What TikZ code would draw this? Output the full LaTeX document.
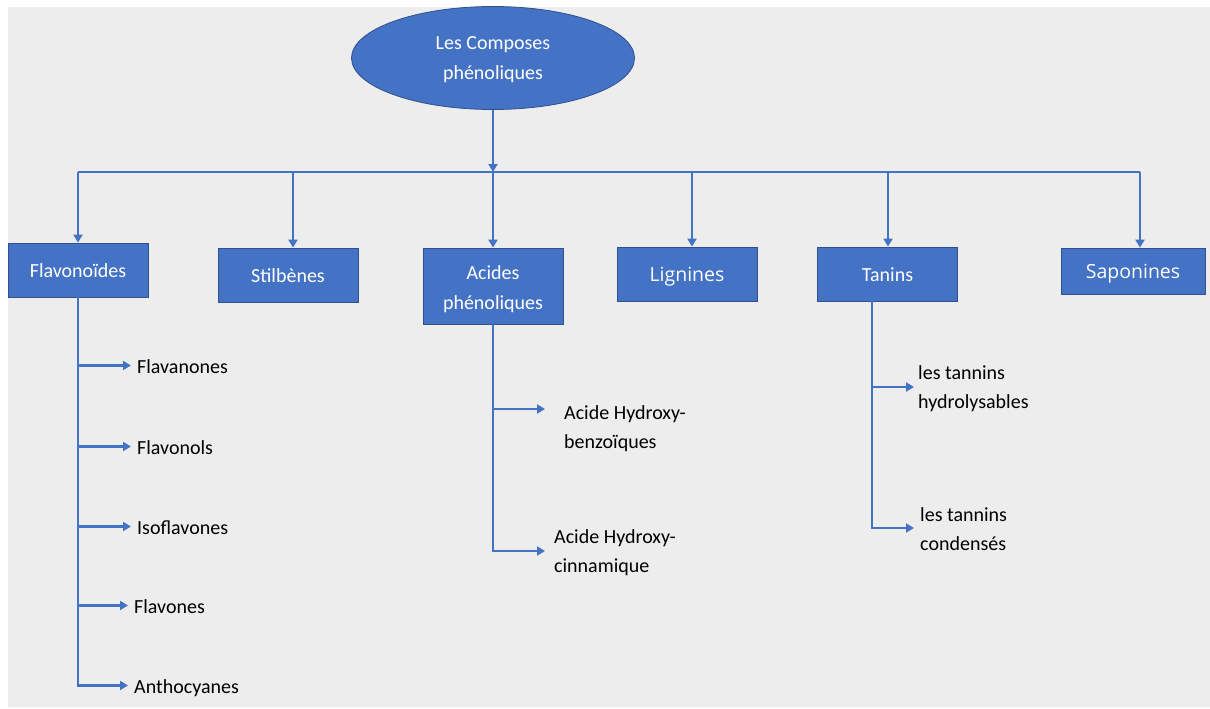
\documentclass[tikz,border=0pt]{standalone}
\usepackage{fontspec}
\setmainfont{Carlito}
\newfontfamily\seg{Open Sans}
\usetikzlibrary{shapes.geometric,arrows.meta}
\definecolor{bg}{HTML}{EDEDED}
\definecolor{blu}{HTML}{4472C4}
\definecolor{bord}{HTML}{2F528F}
\definecolor{ln}{HTML}{4472C4}
\begin{document}
\begin{tikzpicture}[x=1pt,y=-1pt,
 box/.style={draw=bord,line width=0.8pt,fill=blu,text=white,minimum width=140pt,minimum height=54pt,inner sep=0pt,font=\fontsize{20}{30}\selectfont,align=center},
 one/.style={text height=15pt,text depth=0pt},
 conn/.style={draw=ln,line width=2.8pt},
 arr/.style={conn,-{Triangle[width=9pt,length=8pt]}},
 leaf/.style={font=\fontsize{20}{29}\selectfont,text=black,inner ysep=0pt,inner xsep=6pt,align=left},
]
\useasboundingbox (0,0) rectangle (1210,709);
\fill[white] (0,0) rectangle (1210,709);
\fill[bg] (8,7) rectangle (1210,707);

% root
\node[ellipse,draw=bord,line width=0.8pt,fill=blu,text=white,minimum width=283pt,minimum height=103pt,inner sep=0pt,align=center,font=\fontsize{20}{30}\selectfont] (root) at (493,58) {\rule{0pt}{17pt}Les Composes\\phénoliques};

% categories
\node[box,one] (flav) at (78,270) {Flavonoïdes};
\node[box,one] (stil) at (288,275) {Stilbènes};
\node[box,minimum height=76pt] (acid) at (493,286) {\rule{0pt}{19.5pt}Acides\\phénoliques};
\node[box,one,font=\seg\fontsize{19.5}{29}\selectfont] (lign) at (687,274) {Lignines};
\node[box,one] (tan) at (887.5,274) {Tanins};
\node[box,one,minimum width=144pt,minimum height=46pt,font=\seg\fontsize{19.5}{29}\selectfont] (sapo) at (1133,271) {Saponines};

% bar
\coordinate (b1) at (78,172);
\coordinate (b2) at (293,172);
\coordinate (bm) at (493,172);
\coordinate (b4) at (692,172);
\coordinate (b5) at (888,172);
\coordinate (b6) at (1140,172);
\draw[conn] (b1) -- (b6);
\draw[arr] (root.south) -- (bm);
\draw[arr] (b1) -- (b1 |- flav.north);
\draw[arr] (b2) -- (b2 |- stil.north);
\draw[arr] (bm) -- (acid.north);
\draw[arr] (b4) -- (b4 |- lign.north);
\draw[arr] (b5) -- (b5 |- tan.north);
\draw[arr] (b6) -- (b6 |- sapo.north);

% flavonoid children
\node[leaf,one,anchor=base west] (f1) at (131,373) {Flavanones};
\node[leaf,one,anchor=base west] (f2) at (131,454) {Flavonols};
\node[leaf,one,anchor=base west] (f3) at (131,534) {Isoflavones};
\node[leaf,one,anchor=base west] (f4) at (128,613) {Flavones};
\node[leaf,one,anchor=base west] (f5) at (128,693) {Anthocyanes};
\foreach \c in {f1,f2,f3,f4,f5}{\draw[arr] (flav.south) |- (\c.west);}

% acid children (base = baseline of the last line)
\coordinate (a1) at (545,409);
\coordinate (a2) at (545,551);
\node[leaf,anchor=base west,inner xsep=0pt] (ah1) at (564,448) {Acide Hydroxy-\\benzoïques};
\node[leaf,anchor=base west,inner xsep=0pt] (ah2) at (554,572) {Acide Hydroxy-\\cinnamique};
\draw[arr] (acid.south) |- (a1);
\draw[arr] (acid.south) |- (a2);

% tanins children
\coordinate (t1) at (914,387);
\coordinate (t2) at (914,528);
\node[leaf,anchor=base west,inner xsep=0pt] (th) at (918,408) {les tannins\\hydrolysables};
\node[leaf,anchor=base west,inner xsep=0pt] (tc) at (920,550) {les tannins\\condensés};
\draw[arr] ([xshift=-15.5pt]tan.south) |- (t1);
\draw[arr] ([xshift=-15.5pt]tan.south) |- (t2);
\end{tikzpicture}
\end{document}
